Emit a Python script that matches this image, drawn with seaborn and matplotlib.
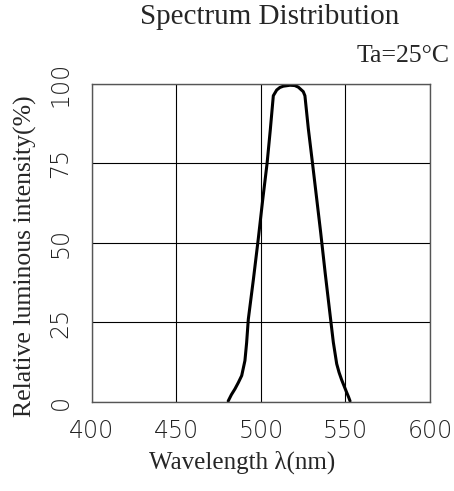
import matplotlib
matplotlib.use("Agg")
import matplotlib.pyplot as plt
import seaborn as sns
import pandas as pd

# curve
wavelength = [480.6, 482.5, 484.6, 486.6, 488.6, 490.5, 491.5, 492.5, 495.5, 498.4, 501.0, 503.6, 505.5, 507.3,
              509.3, 511.2, 513.2, 517.2, 520.0, 522.1, 525.0, 526.0, 528.0, 530.5, 532.5, 535.3, 538.0, 541.2,
              542.8, 544.8, 546.2, 547.7, 549.2, 550.7, 551.8, 552.7]
intensity = [0.3, 2.3, 4.1, 6.1, 8.3, 13.0, 18.6, 26.0, 38.5, 51.3, 63.5, 75.0, 85.5, 96.3,
             98.1, 98.9, 99.3, 99.6, 99.5, 99.0, 97.6, 96.3, 86.0, 75.0, 66.0, 53.4, 40.5, 26.0,
             18.8, 12.0, 9.3, 7.0, 5.0, 3.0, 1.6, 0.3]

x_ticks = [400, 450, 500, 550, 600]
y_ticks = [0, 25, 50, 75, 100]

df = pd.DataFrame({'wavelength': wavelength, 'intensity': intensity})

sns.set_style('white')
serif = ['Liberation Serif', 'DejaVu Serif']
tickfont = ['DejaVu Sans']

fig = plt.figure(figsize=(4.54, 4.91), dpi=100)
ax = fig.add_axes([0.2026, 0.1813, 0.7445, 0.6477])

sns.lineplot(data=df, x='wavelength', y='intensity', color='black', linewidth=2.2, ax=ax)

ax.set_xlim(400, 600)
ax.set_ylim(0, 100)
ax.set_xticks(x_ticks)
ax.set_yticks(y_ticks)
ax.grid(True, color='black', linewidth=0.8)
for s in ax.spines.values():
    s.set_color('#555555')
    s.set_linewidth(1.0)
ax.tick_params(length=0)
ax.set_xticklabels([str(t) for t in x_ticks], fontsize=17, family=tickfont, fontweight='light',
                   color='#222222')
ax.set_yticklabels([str(t) for t in y_ticks], fontsize=17, family=tickfont, fontweight='light',
                   color='#222222', rotation=90, va='center')
ax.tick_params(axis='x', pad=12)
ax.tick_params(axis='y', pad=14)

ax.set_xlabel('Wavelength λ(nm)', fontsize=18, family=serif)
ax.set_ylabel('Relative luminous intensity(%)', fontsize=18.5, family=serif)
ax.xaxis.set_label_coords(0.445, -0.152)
ax.yaxis.set_label_coords(-0.163, 0.458)

fig.text(0.594, 0.951, 'Spectrum Distribution', ha='center', va='baseline', fontsize=21, family=serif)
fig.text(0.991, 0.874, 'Ta=25°C', ha='right', va='baseline', fontsize=18.5, family=serif)

fig.savefig('out.png', dpi=100)
